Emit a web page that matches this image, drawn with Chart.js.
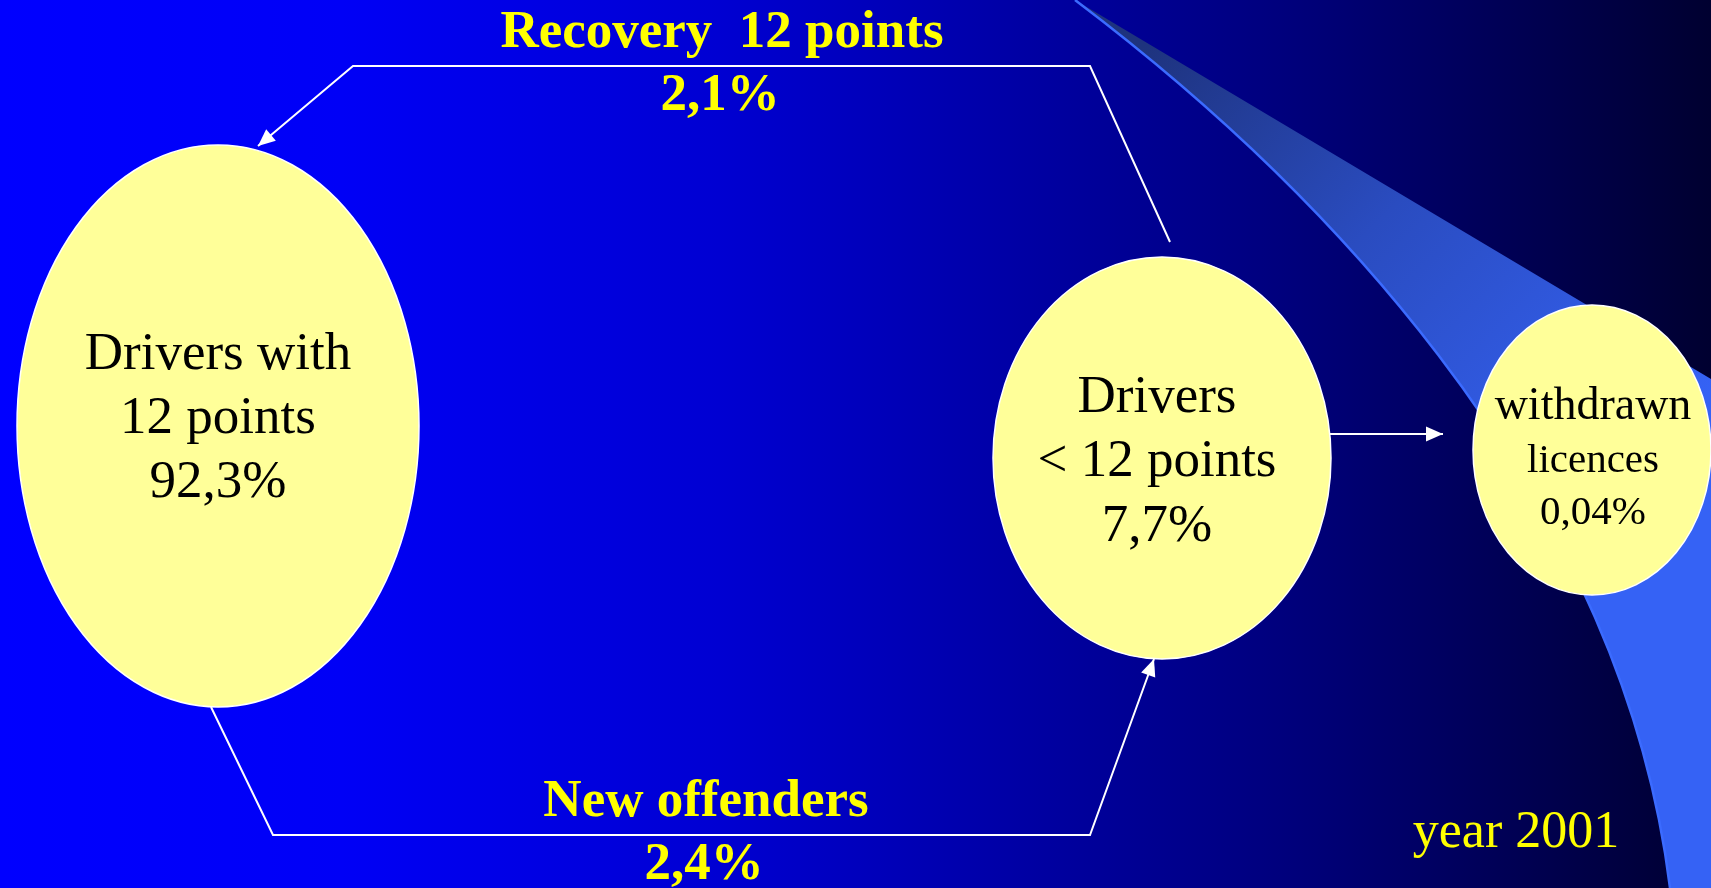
<!DOCTYPE html>
<html>
<head>
<meta charset="utf-8">
<script src="https://cdn.jsdelivr.net/npm/chart.js@4"></script>
<style>
    html, body { margin: 0; padding: 0; overflow: hidden; background: #000080; }
    #wrap { position: relative; width: 1711px; height: 888px; }
</style>
</head>
<body>
<div id="wrap"><canvas id="flowChart"></canvas></div>
<script>
// DATA
const nodeNames = [["Drivers with", "12 points"], ["Drivers", "< 12 points"], ["withdrawn", "licences"]];
const nodeShares = [92.3, 7.7, 0.04];
const flowNames = ["Recovery  12 points", "New offenders"];
const flowShares = [2.1, 2.4];
const yearLabel = "year 2001";

// LAYOUT (canvas units, the scales run 0..W and 0..H)
const W = 1711, H = 888;
const nodeCenters = [[218, 426], [1162, 458], [1592, 450]];
const nodeRadii = [[201, 281], [169, 201], [119, 145]];
const nodeLineY = [[369, 433, 497], [412, 476, 541], [419, 472, 524]];
const nodeFontSize = [[53, 53, 53], [53, 53, 53], [46, 41, 41]];
const nodeTextX = [218, 1157, 1593];
const flowLabelPos = [[722, 47, 720, 110], [706, 816, 704, 879]];
const recoveryPath = [[1170, 242], [1090, 66], [353, 66], [258, 146]];
const offenderPath = [[211, 707], [273, 835], [1090, 835], [1154, 659]];
const withdrawPath = [[1330, 434], [1443, 434]];

const SERIF = '"Liberation Serif", "Times New Roman", serif';
const pct = v => String(v).replace('.', ',') + '%';
const toPoints = arr => arr.map(p => ({ x: p[0], y: p[1] }));

function ellipseSprite(rx, ry) {
    const c = document.createElement('canvas');
    c.width = Math.ceil(rx * 2 + 4);
    c.height = Math.ceil(ry * 2 + 4);
    const g = c.getContext('2d');
    g.beginPath();
    g.ellipse(c.width / 2, c.height / 2, rx, ry, 0, 0, Math.PI * 2);
    g.fillStyle = '#ffff99';
    g.fill();
    g.lineWidth = 1.5;
    g.strokeStyle = '#ffffff';
    g.stroke();
    return c;
}

// background gradient + the light blue swoosh
const backdrop = {
    id: 'backdrop',
    beforeDraw(chart) {
        const { ctx } = chart;
        const sx = chart.scales.x, sy = chart.scales.y;
        const X = v => sx.getPixelForValue(v), Y = v => sy.getPixelForValue(v);

        const bg = ctx.createLinearGradient(X(0), 0, X(W), 0);
        bg.addColorStop(0, '#0000ff');
        bg.addColorStop(0.2, '#0000f6');
        bg.addColorStop(0.42, '#0000d2');
        bg.addColorStop(0.76, '#00007a');
        bg.addColorStop(1, '#000030');
        ctx.save();
        ctx.fillStyle = bg;
        ctx.fillRect(X(0), Y(0), X(W) - X(0), Y(H) - Y(0));

        ctx.beginPath();
        ctx.moveTo(X(1075), Y(0));
        ctx.lineTo(X(1711), Y(379));
        ctx.lineTo(X(1711), Y(888));
        ctx.lineTo(X(1670), Y(888));
        ctx.bezierCurveTo(X(1620), Y(480), X(1300), Y(170), X(1075), Y(0));
        ctx.closePath();
        const sw = ctx.createLinearGradient(X(1150), Y(40), X(1600), Y(500));
        sw.addColorStop(0, '#1e337e');
        sw.addColorStop(0.45, '#2a4cc0');
        sw.addColorStop(1, '#3562f5');
        ctx.fillStyle = sw;
        ctx.fill();

        ctx.beginPath();
        ctx.moveTo(X(1075), Y(0));
        ctx.bezierCurveTo(X(1300), Y(170), X(1620), Y(480), X(1670), Y(888));
        ctx.lineWidth = 2.5;
        ctx.strokeStyle = '#3b6bff';
        ctx.stroke();
        ctx.restore();
    }
};

// arrow heads + all the text
const annotate = {
    id: 'annotate',
    afterDatasetsDraw(chart) {
        const { ctx } = chart;
        const sx = chart.scales.x, sy = chart.scales.y;
        const X = v => sx.getPixelForValue(v), Y = v => sy.getPixelForValue(v);

        ctx.save();
        chart.data.datasets.forEach((ds, i) => {
            if (!ds.arrow) return;
            const pts = chart.getDatasetMeta(i).data;
            const a = pts[pts.length - 2], b = pts[pts.length - 1];
            const ang = Math.atan2(b.y - a.y, b.x - a.x);
            const len = 17, half = 7.5;
            ctx.beginPath();
            ctx.moveTo(b.x, b.y);
            ctx.lineTo(b.x - len * Math.cos(ang) + half * Math.sin(ang), b.y - len * Math.sin(ang) - half * Math.cos(ang));
            ctx.lineTo(b.x - len * Math.cos(ang) - half * Math.sin(ang), b.y - len * Math.sin(ang) + half * Math.cos(ang));
            ctx.closePath();
            ctx.fillStyle = '#ffffff';
            ctx.fill();
        });

        ctx.textAlign = 'center';
        ctx.textBaseline = 'alphabetic';

        // node texts
        ctx.fillStyle = '#000000';
        nodeNames.forEach((lines, i) => {
            const texts = [lines[0], lines[1], pct(nodeShares[i])];
            texts.forEach((t, j) => {
                ctx.font = nodeFontSize[i][j] + 'px ' + SERIF;
                ctx.fillText(t, X(nodeTextX[i]), Y(nodeLineY[i][j]));
            });
        });

        // flow labels
        ctx.fillStyle = '#ffff00';
        ctx.font = 'bold 53px ' + SERIF;
        flowNames.forEach((name, i) => {
            const p = flowLabelPos[i];
            ctx.fillText(name, X(p[0]), Y(p[1]));
            ctx.fillText(pct(flowShares[i]), X(p[2]), Y(p[3]));
        });

        ctx.font = '52px ' + SERIF;
        ctx.fillText(yearLabel, X(1516), Y(847));
        ctx.restore();
    }
};

function lineSet(path, arrow) {
    return {
        type: 'line',
        data: toPoints(path),
        borderColor: '#ffffff',
        borderWidth: 2,
        pointRadius: 0,
        fill: false,
        tension: 0,
        arrow: arrow
    };
}

new Chart(document.getElementById('flowChart'), {
    type: 'scatter',
    data: {
        datasets: [
            {
                label: 'nodes',
                data: toPoints(nodeCenters),
                pointStyle: nodeRadii.map(r => ellipseSprite(r[0], r[1])),
                pointRadius: 10,
                clip: false
            },
            lineSet(recoveryPath, true),
            lineSet(offenderPath, true),
            lineSet(withdrawPath, true)
        ]
    },
    options: {
        responsive: true,
        maintainAspectRatio: false,
        animation: false,
        events: [],
        layout: { padding: 0, autoPadding: false },
        scales: {
            x: { type: 'linear', min: 0, max: W, display: false },
            y: { type: 'linear', min: 0, max: H, reverse: true, display: false }
        },
        plugins: { legend: { display: false }, tooltip: { enabled: false } }
    },
    plugins: [backdrop, annotate]
});
</script>
</body>
</html>
